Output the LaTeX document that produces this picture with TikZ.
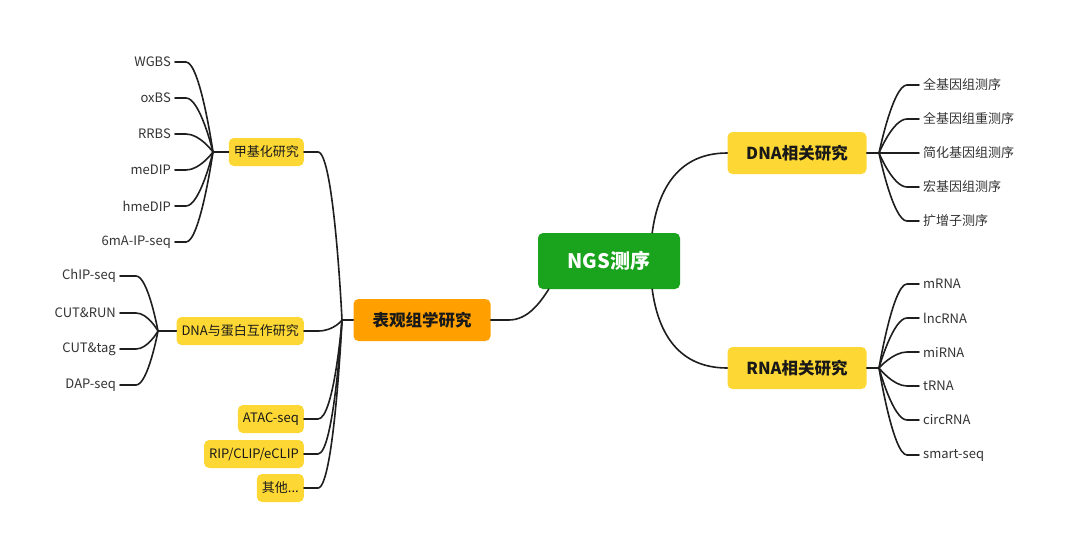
\documentclass[tikz,border=0pt]{standalone}
\usepackage{fontspec}
\setmainfont{Noto Sans CJK SC}
\usetikzlibrary{calc}
\definecolor{ngsgreen}{HTML}{1AA31C}
\definecolor{hdryellow}{HTML}{FDD835}
\definecolor{hdrorange}{HTML}{FFA000}
\definecolor{linec}{HTML}{1E1E1E}
\definecolor{leaftext}{HTML}{333333}
\begin{document}
\begin{tikzpicture}[x=1pt,y=-1pt,
  conn/.style={draw=linec,line width=1.6pt,line cap=round,line join=round},
  rootbox/.style={fill=ngsgreen,rounded corners=5pt,text=white,font=\fontsize{20}{24}\selectfont\bfseries,minimum width=142pt,minimum height=56pt,inner sep=0pt},
  hdrbox/.style={fill=hdryellow,rounded corners=5pt,text=black!90,font=\fontsize{16.5}{20}\selectfont\bfseries,minimum height=42pt,inner sep=0pt},
  subbox/.style={fill=hdryellow,rounded corners=5pt,text=black!90,font=\fontsize{13}{16}\selectfont,minimum height=28pt,inner xsep=5pt,inner ysep=0pt},
  leaf/.style={text=leaftext,font=\fontsize{13}{16}\selectfont,inner xsep=4pt,inner ysep=2pt}]
\useasboundingbox[fill=white] (0,0) rectangle (1069,550);

% main nodes
\node[rootbox] (ngs) at (609,261) {NGS测序};
\node[hdrbox,minimum width=139pt] (dna) at (797,153) {DNA相关研究};
\node[hdrbox,minimum width=139pt] (rna) at (797,368) {RNA相关研究};
\node[hdrbox,fill=hdrorange,minimum width=137pt] (epi) at (422,320) {表观组学研究};

% epigenetics children
\node[subbox,anchor=east] (meth) at (304,152) {甲基化研究};
\node[subbox,anchor=east] (prot) at (304,331) {DNA与蛋白互作研究};
\node[subbox,anchor=east] (atac) at (304,419) {ATAC-seq};
\node[subbox,anchor=east] (rip) at (304,454) {RIP/CLIP/eCLIP};
\node[subbox,anchor=east] (other) at (304,488) {其他...};

% methylation leaves
\node[leaf,anchor=east] (wgbs) at (175,62) {WGBS};
\node[leaf,anchor=east] (oxbs) at (175,98) {oxBS};
\node[leaf,anchor=east] (rrbs) at (175,134) {RRBS};
\node[leaf,anchor=east] (medip) at (175,170) {meDIP};
\node[leaf,anchor=east] (hmedip) at (175,206) {hmeDIP};
\node[leaf,anchor=east] (sixma) at (175,242) {6mA-IP-seq};

% protein leaves
\node[leaf,anchor=east] (chip) at (120,276) {ChIP-seq};
\node[leaf,anchor=east] (cutrun) at (120,313) {CUT\&RUN};
\node[leaf,anchor=east] (cuttag) at (120,349) {CUT\&tag};
\node[leaf,anchor=east] (dap) at (120,385) {DAP-seq};

% DNA leaves
\node[leaf,anchor=west] (d1) at (919,85) {全基因组测序};
\node[leaf,anchor=west] (d2) at (919,119) {全基因组重测序};
\node[leaf,anchor=west] (d3) at (919,153) {简化基因组测序};
\node[leaf,anchor=west] (d4) at (919,187) {宏基因组测序};
\node[leaf,anchor=west] (d5) at (919,221) {扩增子测序};

% RNA leaves
\node[leaf,anchor=west] (r1) at (919,284) {mRNA};
\node[leaf,anchor=west] (r2) at (919,318) {lncRNA};
\node[leaf,anchor=west] (r3) at (919,352) {miRNA};
\node[leaf,anchor=west] (r4) at (919,386) {tRNA};
\node[leaf,anchor=west] (r5) at (919,420) {circRNA};
\node[leaf,anchor=west] (r6) at (919,455) {smart-seq};

% junctions
\coordinate (jm) at (213,152);
\coordinate (jp) at (158,331);
\coordinate (je) at (342,320);
\coordinate (jd) at (879,153);
\coordinate (jr) at (879,368);

% root connectors
\draw[conn] ([xshift=-28pt]ngs.north east) .. controls +(6,-45) and +(-48,0) .. (dna.west);
\draw[conn] ([xshift=-28pt]ngs.south east) .. controls +(6,45) and +(-48,0) .. (rna.west);
\draw[conn] (epi.east) -- ++(18,0) .. controls +(20,0) and +(-8,12) .. ([xshift=11pt]ngs.south west);

% epi children
\draw[conn] (epi.west) -- (je);
\foreach \n in {meth,prot,atac,rip,other}
  \draw[conn] (\n.east) -- ++(14,0) .. controls +(16,0) and (je) .. (je);

% methylation
\draw[conn] (meth.west) -- (jm);
\foreach \n in {wgbs,oxbs,rrbs,medip,hmedip,sixma}
  \draw[conn] (\n.east) -- ++(11,0) .. controls +(14,0) and (jm) .. (jm);

% protein
\draw[conn] (prot.west) -- (jp);
\foreach \n in {chip,cutrun,cuttag,dap}
  \draw[conn] (\n.east) -- ++(16,0) .. controls +(12,0) and (jp) .. (jp);

% DNA
\draw[conn] (dna.east) -- (jd);
\foreach \n in {d1,d2,d3,d4,d5}
  \draw[conn] (\n.west) -- ++(-12,0) .. controls +(-14,0) and (jd) .. (jd);

% RNA
\draw[conn] (rna.east) -- (jr);
\foreach \n in {r1,r2,r3,r4,r5,r6}
  \draw[conn] (\n.west) -- ++(-12,0) .. controls +(-14,0) and (jr) .. (jr);
\end{tikzpicture}
\end{document}
